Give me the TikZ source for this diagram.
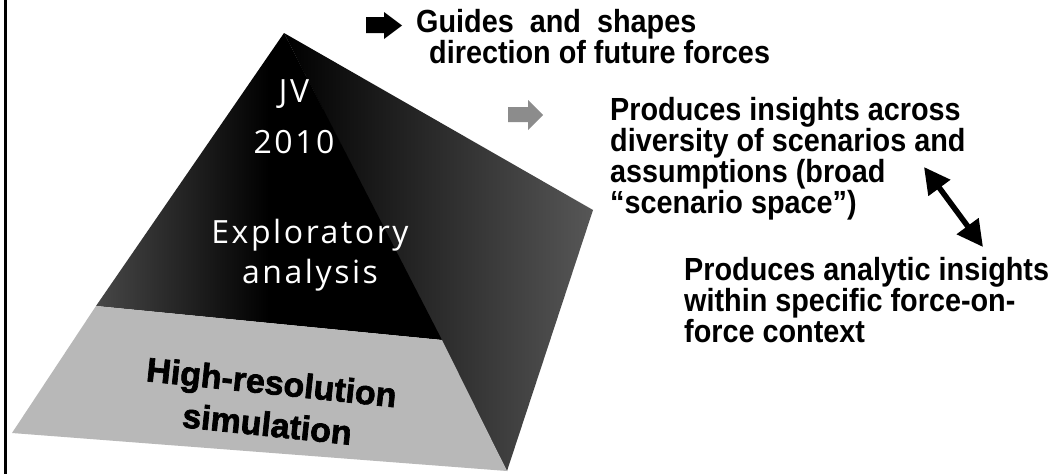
\documentclass[tikz,border=0pt]{standalone}
\usepackage{fontspec}
\usetikzlibrary{arrows.meta}
\setmainfont{Liberation Sans}
\newfontfamily\rfont{Liberation Sans}[FakeStretch=0.9]
\newfontfamily\hfont{Liberation Sans}[BoldFeatures={FakeBold=2}]
\newfontfamily\lfont{Open Sans}[LetterSpace=8]
\definecolor{bandgray}{gray}{0.72}
\begin{document}
\begin{tikzpicture}[x=1pt,y=-1pt,
  rtext/.style={font=\rfont\bfseries\fontsize{32}{28.5}\selectfont, align=left, inner sep=0pt, anchor=base west},
  ltext/.style={text=white, align=center, inner sep=0pt, anchor=base},
  htext/.style={font=\hfont\bfseries\fontsize{34}{42}\selectfont, align=center, inner sep=0pt, anchor=base, rotate=-6},
  dblarrow/.style={line width=5.5pt, {Triangle[width=26pt,length=26pt]}-{Triangle[width=26pt,length=26pt]}},
  icon/.style={fill=black}
]
\useasboundingbox (0,0) rectangle (1060,474);
\fill[white] (0,0) rectangle (1060,474);
% left frame line
\draw[line width=3pt] (5,0) -- (5,474);
% pyramid corners
\coordinate (A) at (284,33);
\coordinate (BL) at (12,433);
\coordinate (BR) at (507,471);
\coordinate (C) at (593,210);
\coordinate (L1) at (96,306);
\coordinate (L2) at (442,340);
% right face
\shade[left color=black, right color=black!66] (A) -- (C) -- (BR) -- cycle;
% front face, upper dark part
\shade[left color=black!72, right color=black, middle color=black] (A) -- (L1) -- (L2) -- cycle;
% front face, light band
\fill[bandgray] (L1) -- (BL) -- (BR) -- (L2) -- cycle;
% texts on the pyramid (anchor = baseline of the last line)
\node[ltext, font=\lfont\fontsize{32}{51}\selectfont] (jv) at (294,153) {JV\\2010};
\node[ltext, font=\lfont\fontsize{32}{40}\selectfont] (expl) at (310,283) {Exploratory\\analysis};
\node[htext] (hires) at (266,436) {High-resolution\\simulation};
% arrow icons
\fill[icon] (366,17) -- (384,17) -- (384,12) -- (402,25.5) -- (384,39) -- (384,33) -- (366,33) -- cycle;
\fill[black!45] (508,107) -- (528,107) -- (528,100) -- (543,115) -- (528,130) -- (528,122) -- (508,122) -- cycle;
% right-hand texts (anchor = baseline of the last line)
\node[rtext, font=\rfont\bfseries\fontsize{32}{31}\selectfont] (guides) at (416,63) {Guides\ \ and\ \ shapes\\\hspace*{13pt}direction of future forces};
\node[rtext] (insA) at (610,213) {Produces insights across\\diversity of scenarios and\\assumptions (broad\\“scenario space”)};
\node[rtext, font=\rfont\bfseries\fontsize{32}{29}\selectfont] (insB) at (684,342) {Produces analytic insights\\within specific force-on-\\force context};
% double-headed arrow
\coordinate (dA) at (924,167);
\coordinate (dB) at (983,247);
\draw[dblarrow] (dA) -- (dB);
\end{tikzpicture}
\end{document}
